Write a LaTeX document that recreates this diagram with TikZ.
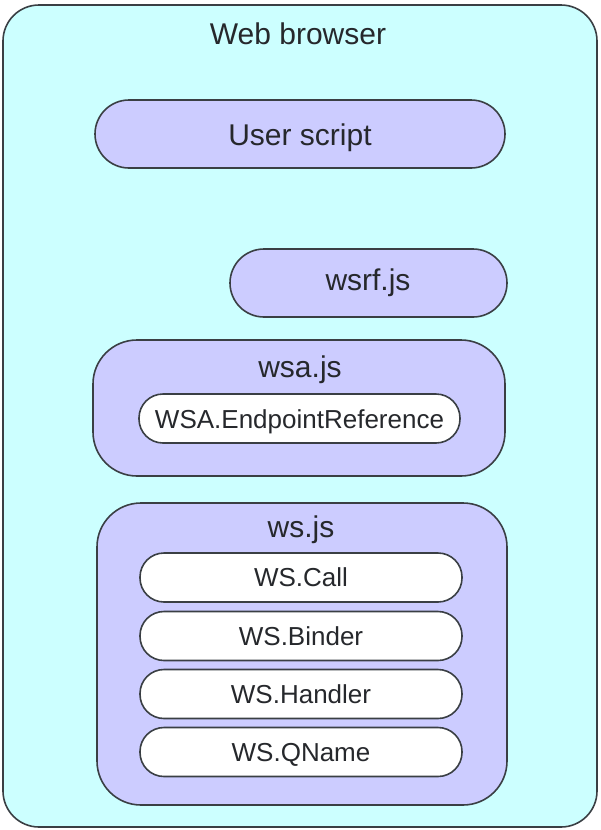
\documentclass[tikz,border=0pt]{standalone}
\usepackage{fontspec}
\setmainfont{Liberation Sans}
\definecolor{browserfill}{HTML}{CCFFFF}
\definecolor{modfill}{HTML}{CCCCFF}
\definecolor{edge}{HTML}{3A3F44}
\definecolor{ink}{HTML}{26282C}
\begin{document}
\begin{tikzpicture}[x=1pt,y=-1pt,
  container/.style={draw=edge,line width=1.6pt,inner sep=0pt},
  pill/.style={container,fill=modfill,minimum height=68pt,rounded corners=34pt},
  module/.style={container,fill=modfill,rounded corners=44pt},
  cls/.style={container,fill=white,minimum width=322pt,minimum height=49pt,rounded corners=24pt,
    font=\fontsize{26}{30}\selectfont,text=ink},
  title/.style={inner sep=0pt,anchor=base,font=\fontsize{30}{34}\selectfont,text=ink}]
\useasboundingbox (0,0) rectangle (600,830);
\node[container,fill=browserfill,rounded corners=36pt,minimum width=594pt,minimum height=822pt] (browser) at (300,416) {};
\node[title] (browsertitle) at (298,44) {Web browser};
\node[pill,minimum width=410pt] (user) at (300,134) {};
\node[title] (usertitle) at (300,145) {User script};
\node[pill,minimum width=277pt] (wsrf) at (368.5,283) {};
\node[title] (wsrftitle) at (368,290) {wsrf.js};
\node[module,minimum width=412pt,minimum height=136pt] (wsa) at (299,408) {};
\node[title] (wsatitle) at (300,377) {wsa.js};
\node[cls,minimum width=321pt] (epr) at (299.5,418.5) {};
\node[inner sep=0pt,anchor=base,font=\fontsize{26}{30}\selectfont,text=ink] (eprtext) at (299.5,428) {WSA.EndpointReference};
\node[module,minimum width=410pt,minimum height=302pt] (ws) at (302,654) {};
\node[title] (wstitle) at (301,537) {ws.js};
\node[cls,text height=18.6pt,text depth=0pt] (call) at (301,577.5) {WS.Call};
\node[cls,text height=18.6pt,text depth=0pt] (binder) at (301,636) {WS.Binder};
\node[cls,text height=18.6pt,text depth=0pt] (handler) at (301,694) {WS.Handler};
\node[cls,text height=18.6pt,text depth=0pt] (qname) at (301,752) {WS.QName};
\end{tikzpicture}
\end{document}
